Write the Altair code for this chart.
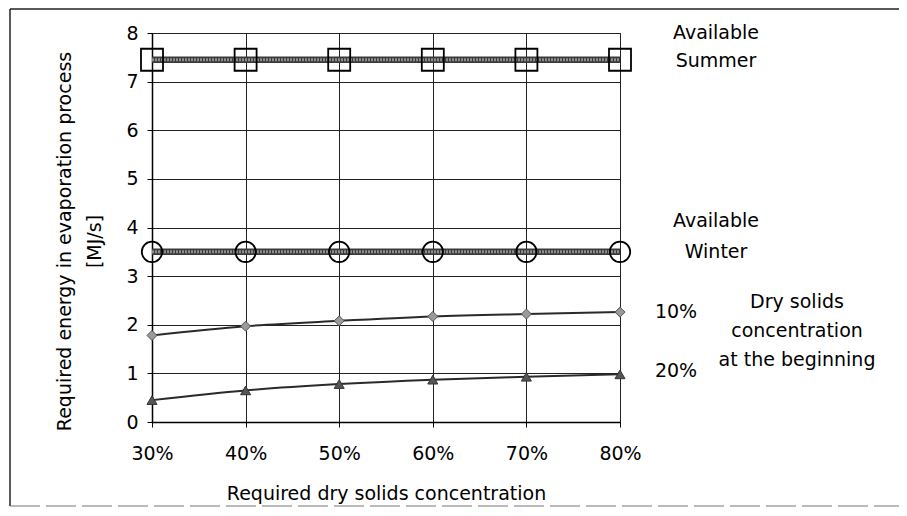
import altair as alt
import pandas as pd

# ---- data ----
conc = [30, 40, 50, 60, 70, 80]
summer = [7.45, 7.45, 7.45, 7.45, 7.45, 7.45]
winter = [3.5, 3.5, 3.5, 3.5, 3.5, 3.5]
dry10 = [1.78, 1.97, 2.08, 2.17, 2.22, 2.26]
dry20 = [0.45, 0.65, 0.78, 0.87, 0.93, 0.98]
y_ticks = [0, 1, 2, 3, 4, 5, 6, 7, 8]

x_title = "Required dry solids concentration"
y_title = ["Required energy in evaporation process", "[MJ/s]"]
ann_summer = ["Available", "Summer"]
ann_winter = ["Available", "Winter"]
ann_pct = ["10%", "20%"]
ann_dry = ["Dry solids", "concentration", "at the beginning"]

rows = []
for name, vals in [("summer", summer), ("winter", winter), ("d10", dry10), ("d20", dry20)]:
    for c, v in zip(conc, vals):
        rows.append({"conc": c, "value": v, "series": name})
df = pd.DataFrame(rows)
one = pd.DataFrame({"k": [0]})

FONT = "DejaVu Sans"
FS = 19

x_enc = alt.X(
    "conc:Q",
    scale=alt.Scale(domain=[30, 80], nice=False, zero=False),
    axis=alt.Axis(
        values=conc, labelExpr="datum.value + '%'", title=x_title,
        titleY=77, titleBaseline="alphabetic", labelFlush=False,
        tickSize=5, labelPadding=17,
    ),
)
y_enc = alt.Y(
    "value:Q",
    scale=alt.Scale(domain=[0, 8], nice=False),
    axis=alt.Axis(
        values=y_ticks, title=y_title, titleX=-78, titleY=208,
        titleBaseline="bottom", titleLineHeight=30,
        tickSize=5, labelPadding=9,
    ),
)

base = alt.Chart(df).encode(x=x_enc, y=y_enc)

def sel(name):
    return base.transform_filter(alt.datum.series == name)

layers = []
# thick bands
for name in ["summer", "winter"]:
    layers.append(sel(name).mark_line(color="#3a3a3a", strokeWidth=6.5))
    layers.append(sel(name).mark_line(color="#8c8c8c", strokeWidth=3, strokeDash=[2, 1]))
layers.append(sel("summer").mark_point(shape="square", size=484, filled=False,
                                        color="black", strokeWidth=1.8, opacity=1))
layers.append(sel("winter").mark_point(shape="circle", size=415, filled=False,
                                        color="black", strokeWidth=1.8, opacity=1))
layers.append(sel("d10").mark_line(color="#2a2a2a", strokeWidth=2, interpolate="monotone"))
layers.append(sel("d10").mark_point(shape="diamond", size=100, filled=True,
                                     fill="#9a9a9a", stroke="#555555", strokeWidth=1, opacity=1))
layers.append(sel("d20").mark_line(color="#2a2a2a", strokeWidth=2, interpolate="monotone"))
layers.append(sel("d20").mark_point(shape="triangle-up", size=100, filled=True,
                                     fill="#555555", stroke="#333333", strokeWidth=1, opacity=1))

# annotations (one row each so text is drawn once)
def txt(t, x, y, align="center"):
    return alt.Chart(pd.DataFrame({"label": [t]})).mark_text(
        font=FONT, fontSize=FS, color="black", align=align, baseline="alphabetic"
    ).encode(text="label:N", x=alt.value(x), y=alt.value(y))

layers += [
    txt(ann_summer[0], 564, 6), txt(ann_summer[1], 564, 34),
    txt(ann_winter[0], 564, 194), txt(ann_winter[1], 564, 225),
    txt(ann_pct[0], 524, 285), txt(ann_pct[1], 524, 344),
    txt(ann_dry[0], 645, 275), txt(ann_dry[1], 645, 304), txt(ann_dry[2], 645, 333),
]

# outer frame
frame_top = alt.Chart(one).mark_rule(color="#222222", strokeWidth=1.5).encode(
    x=alt.value(-142), x2=alt.value(747), y=alt.value(-24))
frame_left = alt.Chart(one).mark_rule(color="#222222", strokeWidth=1.5).encode(
    x=alt.value(-142), y=alt.value(-24), y2=alt.value(473))
frame_bottom = alt.Chart(one).mark_rule(color="#777777", strokeWidth=1, strokeDash=[30, 6]).encode(
    x=alt.value(-142), x2=alt.value(747), y=alt.value(473))
layers += [frame_top, frame_left, frame_bottom]

chart = alt.layer(*layers).properties(
    width=468, height=389,
    autosize=alt.AutoSizeParams(type="none"),
    padding={"left": 144, "top": 25, "right": 279, "bottom": 86},
    background="white",
).configure_axis(
    labelFont=FONT, labelFontSize=FS, labelColor="black",
    titleFont=FONT, titleFontSize=FS, titleColor="black", titleFontWeight="normal",
    domainColor="black", domainWidth=1.5, tickColor="black", tickWidth=1,
    gridColor="#222222", gridWidth=1, gridOpacity=1,
).configure_view(stroke="#222222", strokeWidth=1)

chart.save("out.html", embed_options={"renderer": "svg", "actions": False})
